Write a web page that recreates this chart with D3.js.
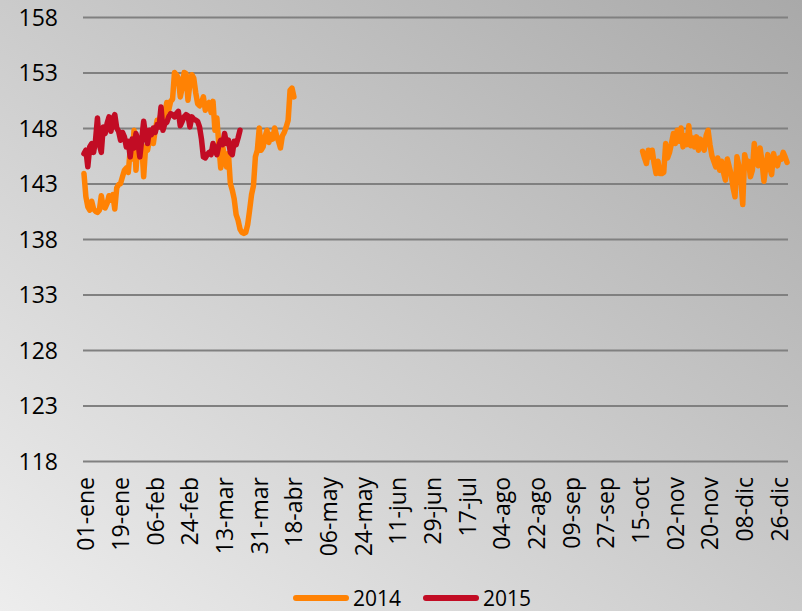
<!DOCTYPE html>
<html>
<head>
<meta charset="utf-8">
<script src="https://cdn.jsdelivr.net/npm/d3@7"></script>
<style>
  html, body { margin: 0; padding: 0; }
  #wrapper { width: 802px; height: 611px; }
  text { font-family: "Open Sans", "Noto Sans", sans-serif; fill: #000; }
</style>
</head>
<body>
<div id="wrapper"></div>
<script>
// x axis tick labels, one every 18 days
const xTickLabels = ["01-ene", "19-ene", "06-feb", "24-feb", "13-mar", "31-mar", "18-abr",
  "06-may", "24-may", "11-jun", "29-jun", "17-jul", "04-ago", "22-ago", "09-sep",
  "27-sep", "15-oct", "02-nov", "20-nov", "08-dic", "26-dic"]
const yTicks = [118, 123, 128, 133, 138, 143, 148, 153, 158]

// 2014, first stretch (starts 01-ene)
const start2014a = 0
const values2014a = [
  143.9, 141.8, 140.9, 140.6, 141.4, 140.7, 140.5, 140.4, 140.6, 141.9,
  140.9, 140.8, 141.2, 141.9, 141.5, 142.0, 140.7, 142.6, 142.9, 143.0,
  143.6, 144.2, 144.4, 144.0, 146.0, 145.2, 147.8, 144.2, 146.6, 147.0,
  146.5, 143.6, 146.3, 146.0, 147.0, 147.5, 146.6, 147.8, 148.7, 148.4,
  149.3, 148.8, 149.3, 150.3, 149.6, 150.4, 150.6, 153.0, 152.8, 152.5,
  150.8, 151.6, 153.0, 152.9, 150.5, 152.0, 152.8, 152.5, 151.2, 150.2,
  150.0, 150.3, 150.8, 149.6, 149.9, 150.3, 149.4, 150.4, 147.8, 148.9,
  146.5, 144.4, 146.3, 145.4, 144.5, 145.7, 143.0, 142.4, 141.6, 140.2,
  139.7, 138.9, 138.6, 138.5, 138.6, 139.3, 140.6, 142.0, 142.8, 145.4,
  146.0, 148.0, 146.0, 146.3, 147.2, 147.8, 146.7, 147.4, 147.0, 148.0,
  147.3, 146.8, 146.2, 147.3, 147.6, 148.1, 148.7, 151.4, 151.6, 150.8
]
// 2014, second stretch (from mid October)
const start2014b = 290
const values2014b = [
  145.9, 145.3, 144.8, 146.0, 145.4, 146.0, 144.8, 143.9, 145.0, 143.9,
  143.9, 144.0, 146.6, 145.3, 145.8, 146.6, 147.5, 146.6, 147.8, 146.8,
  148.0, 146.3, 147.3, 146.5, 148.2, 146.4, 147.1, 146.3, 147.2, 146.0,
  147.0, 146.5, 146.0, 147.3, 147.8, 146.5, 145.5, 145.0, 144.5, 145.3,
  144.2, 145.0, 144.0, 143.3, 145.2, 144.5, 143.8, 142.6, 141.8, 145.4,
  144.6, 143.4, 141.1, 145.6, 144.8, 145.0, 143.6, 144.2, 146.6, 145.0,
  144.6, 146.2, 145.0, 143.2, 144.5, 145.6, 144.5, 143.8, 145.7, 144.9,
  144.6, 145.3, 145.2, 145.8, 145.4, 144.9
]
// 2015 (starts 01-ene)
const start2015 = 0
const values2015 = [
  145.7, 146.0, 144.5, 146.3, 146.6, 145.8, 146.9, 148.9, 146.5, 145.8,
  148.1, 147.5, 148.4, 149.0, 147.7, 148.8, 149.2, 148.0, 147.7, 146.9,
  147.6, 147.2, 146.3, 146.8, 145.4, 147.0, 146.2, 147.5, 146.8, 145.4,
  147.0, 148.6, 147.3, 146.6, 147.8, 147.4, 148.0, 147.6, 148.3, 148.1,
  149.9, 147.8, 148.4, 148.5, 149.0, 149.3, 149.2, 149.0, 149.3, 149.5,
  148.2, 148.6, 149.0, 149.2, 149.1, 148.1, 149.0, 148.8, 148.7, 148.6,
  148.1, 147.0, 145.4, 145.3, 145.6, 145.8, 145.6, 146.6, 146.1, 145.6,
  146.4, 146.9, 146.5, 147.5, 146.6, 146.9, 145.8, 145.6, 146.8, 146.5,
  147.1, 147.8
]

const toPoints = (start, values) => values.map((v, i) => ({ day: start + i, value: v }))

function drawLineChart() {
  const dayAccessor = d => d.day
  const yAccessor = d => d.value

  // Dimensions
  let dimensions = {
    width: 802,
    height: 611,
    margins: { top: 17, right: 14, bottom: 150, left: 83 }
  }
  dimensions.boundedWidth = dimensions.width - dimensions.margins.left - dimensions.margins.right
  dimensions.boundedHeight = dimensions.height - dimensions.margins.top - dimensions.margins.bottom

  const svg = d3.select("#wrapper")
    .append("svg")
      .attr("width", dimensions.width)
      .attr("height", dimensions.height)

  // background gradient
  const grad = svg.append("defs").append("linearGradient")
      .attr("id", "bg")
      .attr("x1", 0).attr("y1", 1).attr("x2", 1).attr("y2", 0)
  grad.append("stop").attr("offset", "0%").attr("stop-color", "#ededed")
  grad.append("stop").attr("offset", "100%").attr("stop-color", "#a9a9a9")
  svg.append("rect")
      .attr("width", dimensions.width)
      .attr("height", dimensions.height)
      .attr("fill", "url(#bg)")

  const bounds = svg.append("g")
      .attr("transform", `translate(${dimensions.margins.left}, ${dimensions.margins.top})`)

  // Scales (day axis of 366 days, points in the middle of each day)
  const xScale = d3.scaleLinear()
    .domain([0, 366])
    .range([0, dimensions.boundedWidth])
  const yScale = d3.scaleLinear()
    .domain([118, 158])
    .range([dimensions.boundedHeight, 0])

  // Peripherals
  const yAxisGenerator = d3.axisLeft(yScale)
    .tickValues(yTicks)
    .tickSize(-dimensions.boundedWidth)
    .tickPadding(25)
  const yAxis = bounds.append("g").call(yAxisGenerator)
  yAxis.select(".domain").remove()
  yAxis.selectAll("line").attr("stroke", "#808080").attr("stroke-width", 1.8)
  yAxis.selectAll("text").style("font-size", "23px").attr("dy", "0.36em")

  const xAxisGenerator = d3.axisBottom(xScale)
    .tickValues(xTickLabels.map((d, i) => i * 18 + 0.5))
    .tickFormat((d, i) => xTickLabels[i])
    .tickSize(0)
  const xAxis = bounds.append("g")
      .attr("transform", `translate(0, ${dimensions.boundedHeight})`)
      .call(xAxisGenerator)
  xAxis.select(".domain").remove()
  xAxis.selectAll("text")
      .style("font-size", "23px")
      .attr("text-anchor", "end")
      .attr("transform", "rotate(-90)")
      .attr("x", -16)
      .attr("y", 1.5)
      .attr("dy", "0.36em")

  // Data
  const lineGenerator = d3.line()
    .x(d => xScale(dayAccessor(d) + 0.5))
    .y(d => yScale(yAccessor(d)))

  const series = [
    { color: "#ff8204", parts: [toPoints(start2014a, values2014a), toPoints(start2014b, values2014b)] },
    { color: "#c20c24", parts: [toPoints(start2015, values2015)] }
  ]
  series.forEach(s => {
    s.parts.forEach(part => {
      bounds.append("path")
        .attr("d", lineGenerator(part))
        .attr("fill", "none")
        .attr("stroke", s.color)
        .attr("stroke-width", 5.5)
        .attr("stroke-linejoin", "round")
        .attr("stroke-linecap", "round")
    })
  })

  // Legend
  const legendItems = [
    { label: "2014", color: "#ff8204", x: 296 },
    { label: "2015", color: "#c20c24", x: 426 }
  ]
  const legend = svg.append("g").attr("transform", "translate(0, 598)")
  legendItems.forEach(item => {
    legend.append("line")
      .attr("x1", item.x).attr("x2", item.x + 50)
      .attr("y1", 0).attr("y2", 0)
      .attr("stroke", item.color)
      .attr("stroke-width", 6)
      .attr("stroke-linecap", "round")
    legend.append("text")
      .attr("x", item.x + 57)
      .attr("dy", "0.36em")
      .style("font-size", "21px")
      .text(item.label)
  })
}
drawLineChart()
</script>
</body>
</html>
